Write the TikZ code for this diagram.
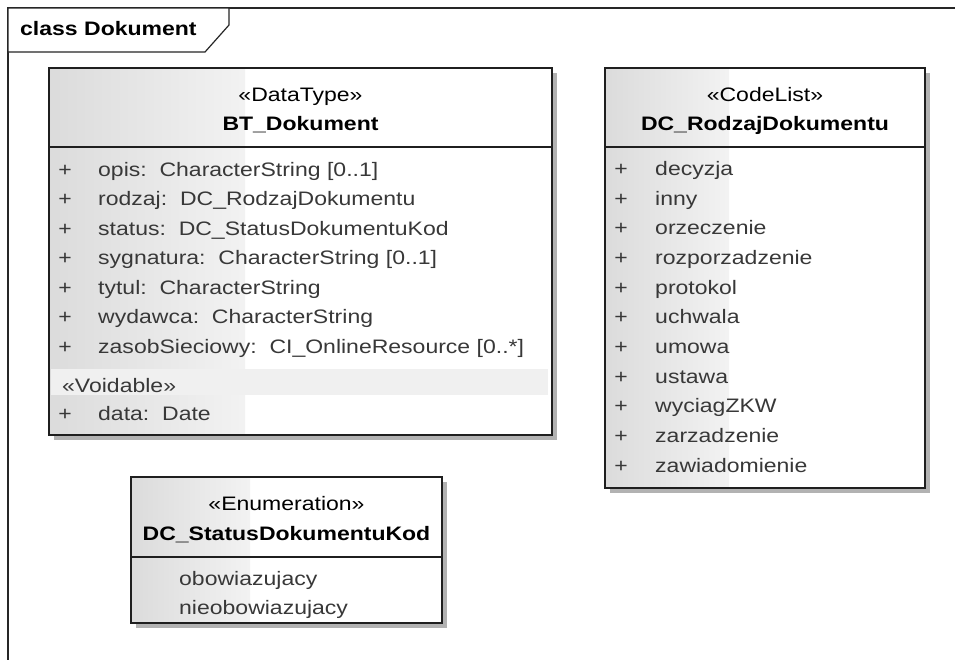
\documentclass[tikz,border=0pt]{standalone}
\usepackage{fontspec}
\setmainfont[FakeStretch=1.18]{Liberation Sans}
\newcommand{\uf}{\fontsize{19.5}{23}\selectfont}
\begin{document}
\begin{tikzpicture}[x=1pt,y=-1pt,
  frameline/.style={draw=black!85, line width=1.2pt},
  boxline/.style={draw=black!88, line width=1.6pt},
  shadowfill/.style={fill=black!30, draw=none},
  gradfill/.style={left color=black!14, right color=black!5, draw=none},
  voidband/.style={fill=black!6, draw=none},
  stereo/.style={font=\uf, text=black, inner sep=0, anchor=base},
  cname/.style={font=\uf\bfseries, text=black, inner sep=0, anchor=base},
  attr/.style={font=\uf, text=black!78, inner sep=0, anchor=base west},
  plus/.style={font=\uf, text=black!78, inner sep=0, anchor=base},
  tabtext/.style={font=\uf\bfseries, text=black, inner sep=0, anchor=base west}]
\useasboundingbox (0,0) rectangle (955,659);
\clip (0,0) rectangle (955,659);
\fill[white] (0,0) rectangle (955,659);
% frame
\draw[frameline] (8,8) rectangle (1000,700);
\draw[frameline, fill=white] (8,8) -- (229,8) -- (229,25) -- (205,52) -- (8,52) -- cycle;
\node[tabtext] (tab) at (20,35) {class Dokument};

% ---------- BT_Dokument ----------
\fill[shadowfill] (54,73) rectangle (557,440);
\fill[white] (49,68) rectangle (552,435);
\shade[gradfill] (49,68) rectangle (245,435);
\fill[voidband] (51,369) rectangle (548,395);
\draw[boxline] (49,147) -- (552,147);
\draw[boxline] (49,68) rectangle (552,435);
\node[stereo] (btst) at (300.5,101) {«DataType»};
\node[cname] (btname) at (300.5,130) {BT\_Dokument};
\foreach \t [count=\i from 0] in {%
  {opis:\ \ CharacterString [0..1]},
  {rodzaj:\ \ DC\_RodzajDokumentu},
  {status:\ \ DC\_StatusDokumentuKod},
  {sygnatura:\ \ CharacterString [0..1]},
  {tytul:\ \ CharacterString},
  {wydawca:\ \ CharacterString},
  {zasobSieciowy:\ \ CI\_OnlineResource [0..*]}}{
  \node[plus] (btp\i) at (65,176+29.5*\i) {+};
  \node[attr] (bta\i) at (98,176+29.5*\i) {\t};
}
\node[attr] (btvoid) at (62,392) {«Voidable»};
\node[plus] (btpd) at (65,420) {+};
\node[attr] (btdata) at (98,420) {data:\ \ Date};

% ---------- DC_RodzajDokumentu ----------
\fill[shadowfill] (610,73) rectangle (930,493);
\fill[white] (605,68) rectangle (925,488);
\shade[gradfill] (605,68) rectangle (729,488);
\draw[boxline] (605,147) -- (925,147);
\draw[boxline] (605,68) rectangle (925,488);
\node[stereo] (clst) at (765,101) {«CodeList»};
\node[cname] (clname) at (765,130) {DC\_RodzajDokumentu};
\foreach \t [count=\i from 0] in {decyzja,inny,orzeczenie,rozporzadzenie,protokol,uchwala,umowa,ustawa,wyciagZKW,zarzadzenie,zawiadomienie}{
  \node[plus] (clp\i) at (621,175.5+29.65*\i) {+};
  \node[attr] (cla\i) at (655,175.5+29.65*\i) {\t};
}

% ---------- DC_StatusDokumentuKod ----------
\fill[shadowfill] (136,482) rectangle (447,628);
\fill[white] (131,477) rectangle (442,623);
\shade[gradfill] (131,477) rectangle (250,623);
\draw[boxline] (131,557) -- (442,557);
\draw[boxline] (131,477) rectangle (442,623);
\node[stereo] (enst) at (286.5,510) {«Enumeration»};
\node[cname] (enname) at (286.5,540) {DC\_StatusDokumentuKod};
\node[attr] (en1) at (179,585) {obowiazujacy};
\node[attr] (en2) at (179,614) {nieobowiazujacy};
\end{tikzpicture}
\end{document}
